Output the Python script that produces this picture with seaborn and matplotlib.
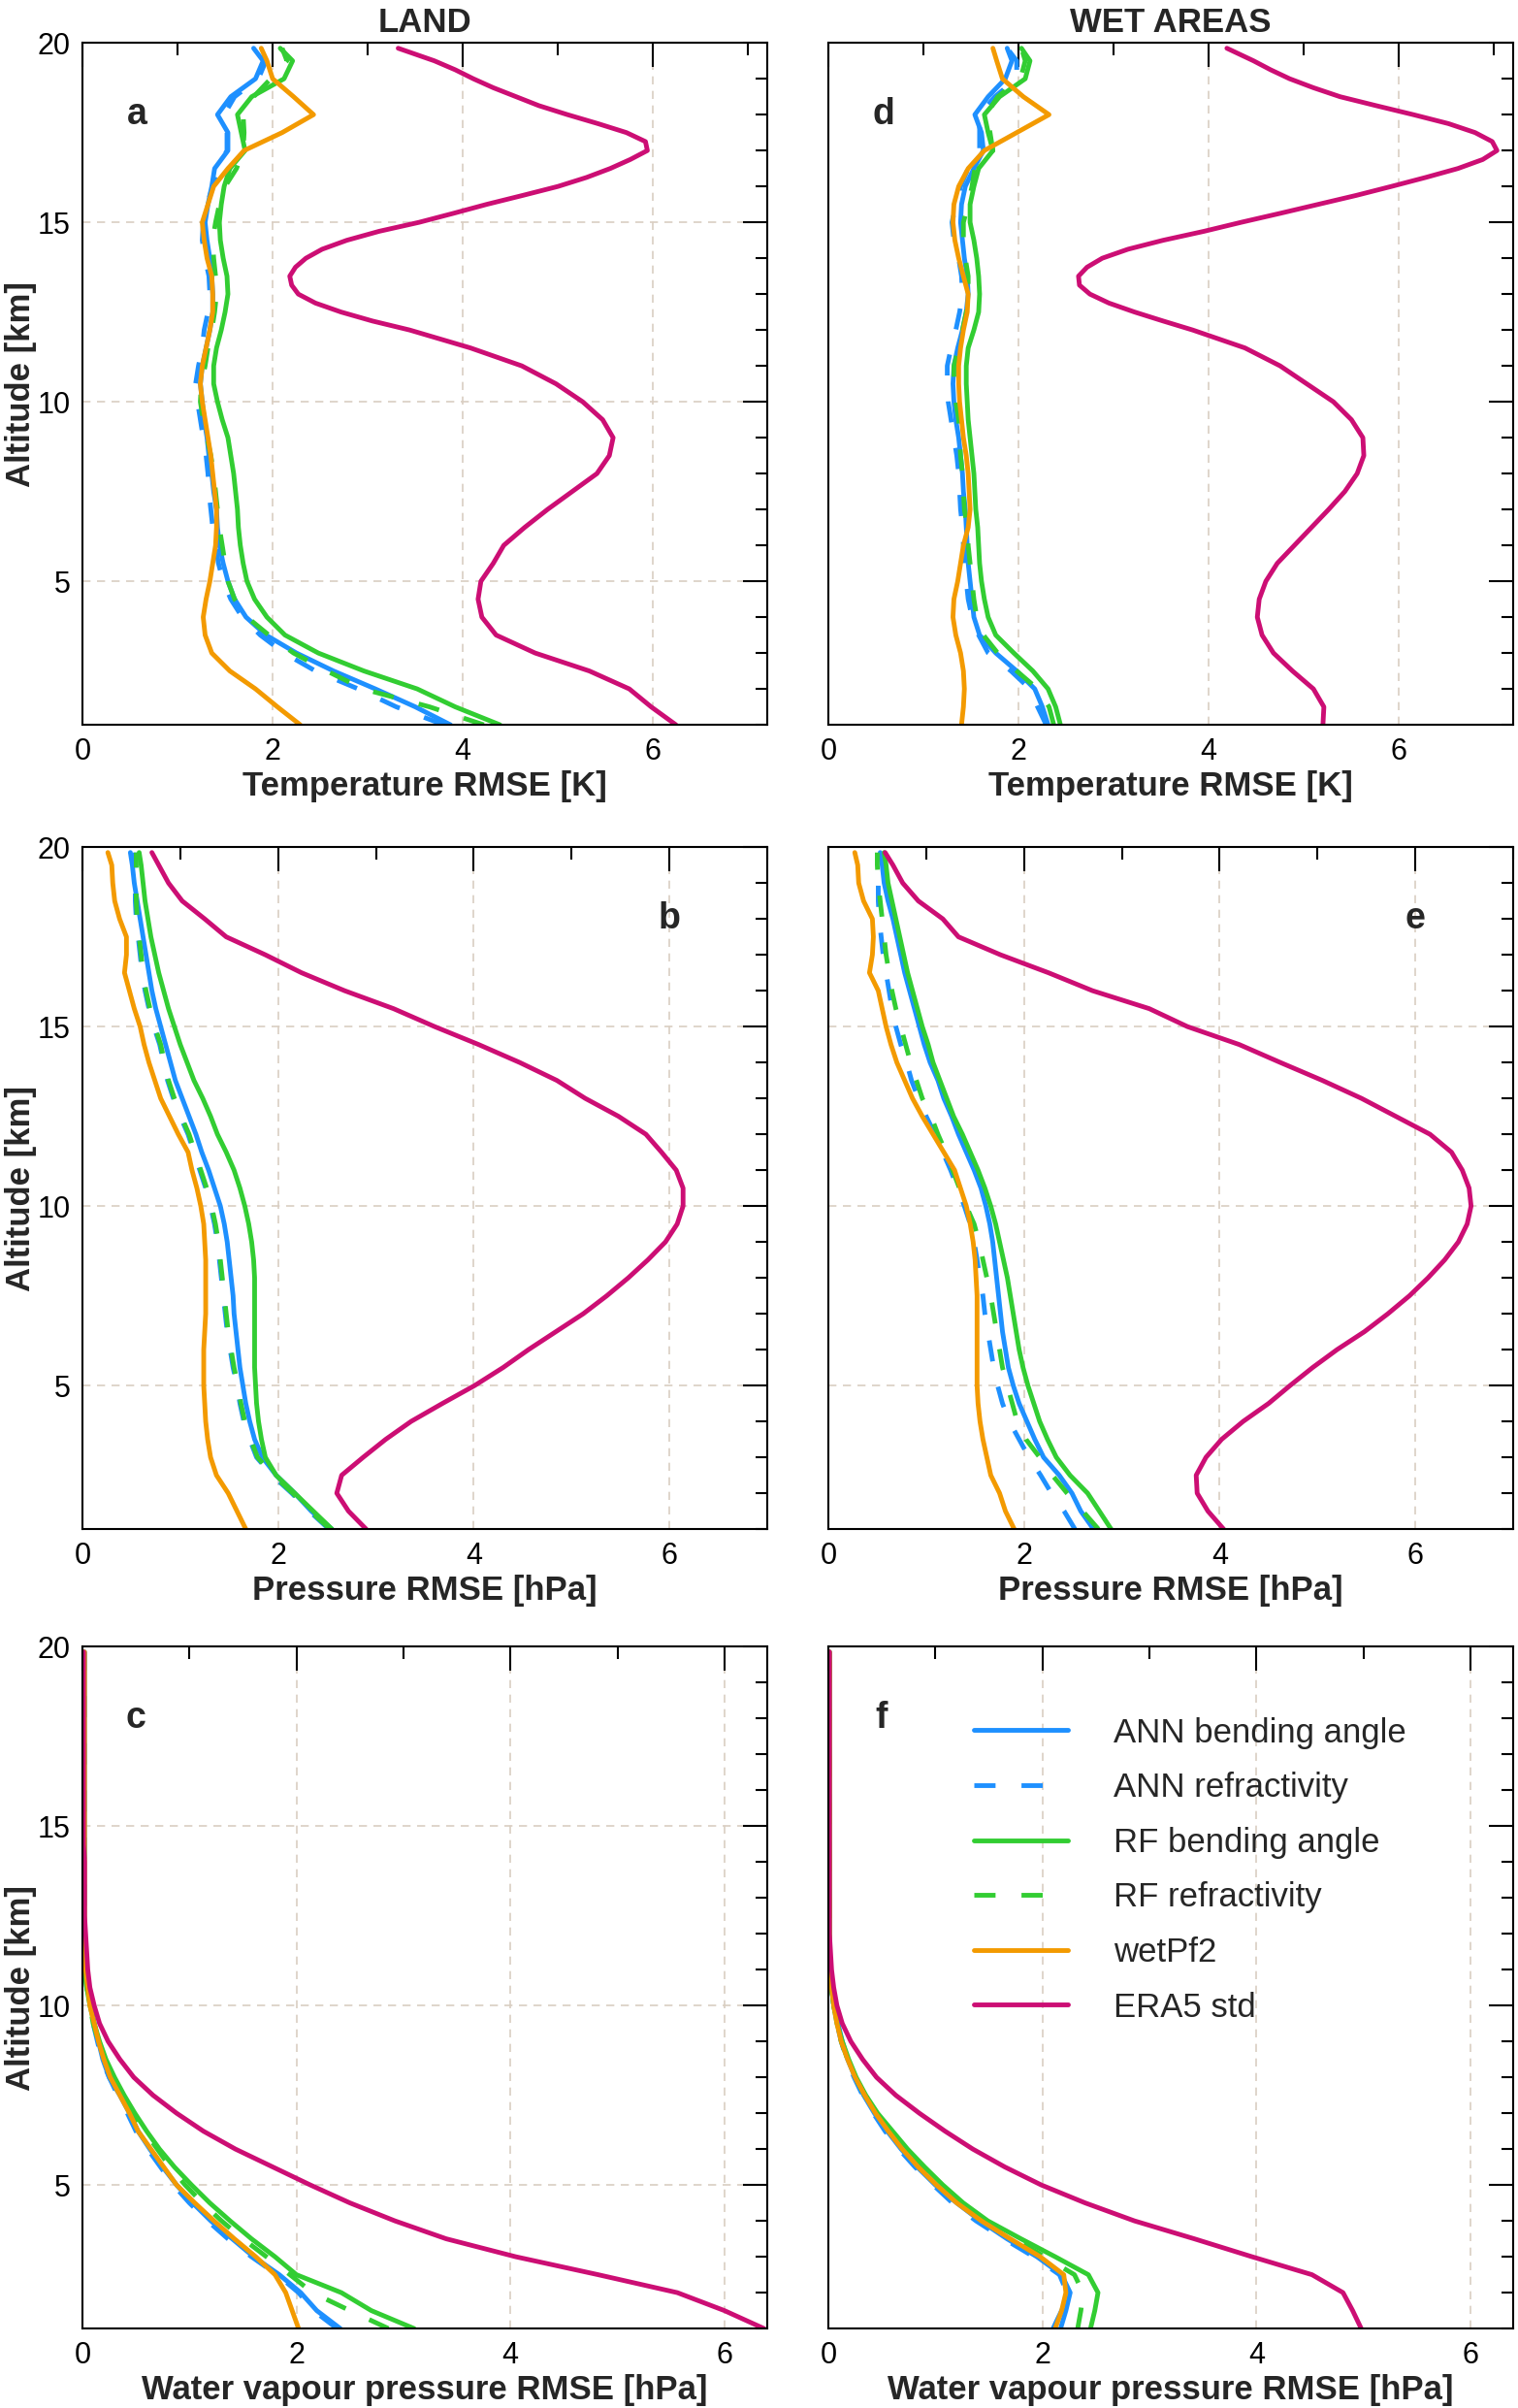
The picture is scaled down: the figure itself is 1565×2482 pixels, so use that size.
"""Profile der RMSE-Werte (Temperatur, Druck, Wasserdampfdruck) für LAND und WET AREAS."""

import matplotlib

matplotlib.use("Agg")
import matplotlib.pyplot as plt
import matplotlib.ticker as mticker
import pandas as pd
import seaborn as sns

# Höhenstufen [km]
ALT = [1.0, 1.5, 2.0, 2.5, 3.0, 3.5, 4.0, 4.5, 5.0, 5.5,
       6.0, 6.5, 7.0, 7.5, 8.0, 8.5, 9.0, 9.5, 10.0, 10.5,
       11.0, 11.5, 12.0, 12.5, 13.0, 13.5, 14.0, 14.5, 15.0, 15.5,
       16.0, 16.5, 17.0, 17.5, 18.0, 18.5, 19.0, 19.5, 19.85]
# feinere Stufen oberhalb 12 km für die ERA5-Temperaturprofile
ALT_FINE = [1.0, 1.5, 2.0, 2.5, 3.0, 3.5, 4.0, 4.5, 5.0, 5.5,
            6.0, 6.5, 7.0, 7.5, 8.0, 8.5, 9.0, 9.5, 10.0, 10.5,
            11.0, 11.5,
            12.0, 12.25, 12.5, 12.75, 13.0, 13.25, 13.5, 13.75, 14.0, 14.25,
            14.5, 14.75, 15.0, 15.25, 15.5, 15.75, 16.0, 16.25, 16.5, 16.75,
            17.0, 17.25, 17.5, 17.75, 18.0, 18.25, 18.5, 18.75, 19.0, 19.25,
            19.5, 19.85]

SERIES = ["ANN bending angle", "ANN refractivity", "RF bending angle",
          "RF refractivity", "wetPf2", "ERA5 std"]

# --- (a) Temperatur RMSE [K], LAND
T_LAND_ANN_BA = [3.87, 3.50, 3.08, 2.64, 2.25, 1.93, 1.72, 1.60, 1.53, 1.48,
                 1.44, 1.42, 1.41, 1.38, 1.36, 1.33, 1.31, 1.28, 1.26, 1.24,
                 1.26, 1.30, 1.34, 1.37, 1.37, 1.36, 1.34, 1.31, 1.29, 1.32,
                 1.36, 1.39, 1.53, 1.53, 1.42, 1.56, 1.82, 1.90, 1.80]
T_LAND_ANN_RF = [3.80, 3.30, 2.90, 2.45, 2.12, 1.87, 1.68, 1.56, 1.48, 1.43,
                 1.40, 1.37, 1.35, 1.33, 1.32, 1.30, 1.27, 1.24, 1.21, 1.19,
                 1.22, 1.26, 1.28, 1.32, 1.34, 1.33, 1.29, 1.26, 1.27, 1.31,
                 1.37, 1.42, 1.52, 1.52, 1.49, 1.60, 1.85, 1.93, 1.81]
T_LAND_RF_BA = [4.39, 3.92, 3.52, 2.96, 2.48, 2.13, 1.94, 1.81, 1.73, 1.69,
                1.66, 1.64, 1.63, 1.61, 1.59, 1.56, 1.53, 1.47, 1.42, 1.38,
                1.38, 1.41, 1.46, 1.50, 1.53, 1.52, 1.48, 1.45, 1.44, 1.46,
                1.49, 1.55, 1.71, 1.67, 1.63, 1.78, 2.12, 2.21, 2.08]
T_LAND_RF_RF = [4.22, 3.65, 2.95, 2.57, 2.22, 1.96, 1.73, 1.60, 1.53, 1.50,
                1.47, 1.44, 1.42, 1.40, 1.38, 1.35, 1.31, 1.27, 1.24, 1.25,
                1.29, 1.32, 1.36, 1.39, 1.41, 1.40, 1.38, 1.37, 1.40, 1.44,
                1.50, 1.62, 1.69, 1.70, 1.69, 1.80, 1.98, 2.15, 2.10]
T_LAND_WET = [2.29, 2.05, 1.82, 1.55, 1.36, 1.29, 1.27, 1.30, 1.34, 1.37,
              1.40, 1.41, 1.41, 1.39, 1.37, 1.35, 1.32, 1.29, 1.26, 1.24,
              1.26, 1.30, 1.34, 1.37, 1.37, 1.36, 1.31, 1.28, 1.26, 1.32,
              1.38, 1.53, 1.70, 2.10, 2.43, 2.22, 2.00, 1.94, 1.88]
T_LAND_ERA5 = [6.24, 5.98, 5.75, 5.33, 4.76, 4.35, 4.20, 4.16, 4.19, 4.32,
               4.43, 4.65, 4.89, 5.15, 5.41, 5.54, 5.58, 5.47, 5.26, 4.98,
               4.62, 4.08,
               3.44, 3.05, 2.72, 2.45, 2.27, 2.20, 2.18, 2.24, 2.35, 2.52,
               2.78, 3.12, 3.54, 3.90, 4.25, 4.63, 5.00, 5.30, 5.55, 5.76,
               5.94, 5.92, 5.72, 5.42, 5.10, 4.80, 4.56, 4.32, 4.11, 3.92,
               3.70, 3.32]

# --- (b) Druck RMSE [hPa], LAND
P_LAND_ANN_BA = [2.55, 2.34, 2.17, 1.98, 1.84, 1.76, 1.71, 1.67, 1.64, 1.61,
                 1.59, 1.57, 1.55, 1.54, 1.52, 1.50, 1.48, 1.45, 1.41, 1.35,
                 1.29, 1.22, 1.16, 1.09, 1.02, 0.95, 0.90, 0.85, 0.80, 0.75,
                 0.71, 0.68, 0.65, 0.62, 0.59, 0.56, 0.53, 0.51, 0.49]
P_LAND_ANN_RF = [2.52, 2.32, 2.14, 1.94, 1.78, 1.71, 1.65, 1.61, 1.58, 1.54,
                 1.51, 1.48, 1.46, 1.44, 1.42, 1.40, 1.38, 1.35, 1.31, 1.26,
                 1.20, 1.14, 1.08, 1.00, 0.93, 0.87, 0.83, 0.79, 0.73, 0.68,
                 0.64, 0.61, 0.59, 0.57, 0.55, 0.54, 0.54, 0.54, 0.54]
P_LAND_RF_BA = [2.55, 2.36, 2.17, 1.98, 1.87, 1.83, 1.80, 1.78, 1.77, 1.76,
                1.76, 1.76, 1.76, 1.76, 1.76, 1.75, 1.73, 1.70, 1.66, 1.61,
                1.55, 1.47, 1.38, 1.31, 1.23, 1.14, 1.07, 1.00, 0.94, 0.88,
                0.83, 0.78, 0.74, 0.70, 0.67, 0.64, 0.62, 0.60, 0.58]
P_LAND_RF_RF = [2.53, 2.33, 2.15, 1.95, 1.79, 1.72, 1.66, 1.62, 1.59, 1.55,
                1.52, 1.49, 1.47, 1.45, 1.43, 1.41, 1.39, 1.36, 1.32, 1.27,
                1.21, 1.15, 1.09, 1.01, 0.94, 0.88, 0.84, 0.80, 0.74, 0.69,
                0.65, 0.62, 0.60, 0.58, 0.56, 0.55, 0.55, 0.55, 0.55]
P_LAND_WET = [1.67, 1.58, 1.49, 1.37, 1.31, 1.28, 1.26, 1.25, 1.24, 1.24,
              1.24, 1.25, 1.26, 1.26, 1.26, 1.26, 1.25, 1.24, 1.21, 1.17,
              1.12, 1.08, 0.98, 0.89, 0.80, 0.74, 0.68, 0.63, 0.59, 0.53,
              0.48, 0.43, 0.45, 0.45, 0.38, 0.33, 0.31, 0.30, 0.26]
P_LAND_ERA5 = [2.90, 2.72, 2.60, 2.65, 2.87, 3.10, 3.36, 3.68, 4.01, 4.30,
               4.56, 4.84, 5.12, 5.36, 5.58, 5.78, 5.96, 6.08, 6.14, 6.14,
               6.07, 5.92, 5.76, 5.48, 5.14, 4.85, 4.47, 4.05, 3.60, 3.18,
               2.68, 2.24, 1.87, 1.47, 1.25, 1.02, 0.88, 0.78, 0.71]

# --- (c) Wasserdampfdruck RMSE [hPa], LAND
E_LAND_ANN_BA = [2.41, 2.19, 2.04, 1.84, 1.60, 1.40, 1.20, 1.03, 0.88, 0.75,
                 0.63, 0.52, 0.44, 0.35, 0.25, 0.19, 0.15, 0.11, 0.08, 0.05,
                 0.03, 0.02, 0.02, 0.02, 0.02, 0.02, 0.02, 0.02, 0.02, 0.02,
                 0.02, 0.02, 0.02, 0.02, 0.02, 0.02, 0.02, 0.02, 0.02]
E_LAND_ANN_RF = [2.38, 2.16, 2.02, 1.82, 1.58, 1.36, 1.17, 1.00, 0.85, 0.73,
                 0.61, 0.50, 0.42, 0.33, 0.25, 0.18, 0.14, 0.10, 0.07, 0.05,
                 0.03, 0.02, 0.02, 0.02, 0.02, 0.02, 0.02, 0.02, 0.02, 0.02,
                 0.02, 0.02, 0.02, 0.02, 0.02, 0.02, 0.02, 0.02, 0.02]
E_LAND_RF_BA = [3.10, 2.70, 2.42, 2.00, 1.80, 1.58, 1.38, 1.19, 1.02, 0.86,
                0.72, 0.60, 0.49, 0.39, 0.30, 0.22, 0.16, 0.11, 0.07, 0.04,
                0.02, 0.01, 0.01, 0.01, 0.01, 0.01, 0.01, 0.01, 0.01, 0.01,
                0.01, 0.01, 0.01, 0.01, 0.01, 0.01, 0.01, 0.01, 0.01]
E_LAND_RF_RF = [2.86, 2.50, 2.15, 1.94, 1.72, 1.50, 1.30, 1.12, 0.96, 0.82,
                0.70, 0.58, 0.47, 0.37, 0.28, 0.21, 0.15, 0.10, 0.07, 0.04,
                0.02, 0.01, 0.01, 0.01, 0.01, 0.01, 0.01, 0.01, 0.01, 0.01,
                0.01, 0.01, 0.01, 0.01, 0.01, 0.01, 0.01, 0.01, 0.01]
E_LAND_WET = [2.02, 1.96, 1.90, 1.80, 1.62, 1.42, 1.23, 1.05, 0.88, 0.76,
              0.64, 0.52, 0.44, 0.35, 0.26, 0.20, 0.15, 0.11, 0.07, 0.05,
              0.03, 0.02, 0.02, 0.02, 0.02, 0.02, 0.02, 0.02, 0.02, 0.02,
              0.02, 0.02, 0.02, 0.02, 0.02, 0.02, 0.02, 0.02, 0.02]
E_LAND_ERA5 = [6.37, 6.00, 5.56, 4.82, 4.05, 3.40, 2.92, 2.50, 2.13, 1.78,
               1.43, 1.13, 0.88, 0.66, 0.48, 0.35, 0.24, 0.16, 0.11, 0.07,
               0.05, 0.04, 0.03, 0.02, 0.02, 0.02, 0.02, 0.01, 0.01, 0.01,
               0.01, 0.01, 0.01, 0.01, 0.01, 0.01, 0.01, 0.01, 0.01]

# --- (d) Temperatur RMSE [K], WET AREAS
T_WET_ANN_BA = [2.31, 2.25, 2.17, 1.98, 1.76, 1.59, 1.53, 1.51, 1.49, 1.47,
                1.46, 1.45, 1.44, 1.42, 1.41, 1.39, 1.37, 1.34, 1.32, 1.31,
                1.32, 1.36, 1.41, 1.45, 1.47, 1.46, 1.43, 1.41, 1.39, 1.40,
                1.44, 1.53, 1.63, 1.61, 1.54, 1.68, 1.86, 1.93, 1.88]
T_WET_ANN_RF = [2.29, 2.20, 2.12, 1.92, 1.68, 1.58, 1.51, 1.47, 1.45, 1.43,
                1.42, 1.41, 1.39, 1.38, 1.37, 1.35, 1.32, 1.29, 1.26, 1.25,
                1.25, 1.29, 1.34, 1.38, 1.41, 1.40, 1.37, 1.32, 1.30, 1.34,
                1.39, 1.47, 1.59, 1.59, 1.59, 1.75, 1.98, 1.98, 1.88]
T_WET_RF_BA = [2.44, 2.39, 2.31, 2.15, 1.95, 1.76, 1.68, 1.64, 1.61, 1.59,
               1.58, 1.57, 1.55, 1.54, 1.53, 1.51, 1.49, 1.47, 1.46, 1.45,
               1.45, 1.47, 1.53, 1.58, 1.59, 1.58, 1.56, 1.53, 1.49, 1.49,
               1.53, 1.58, 1.73, 1.68, 1.64, 1.80, 2.07, 2.12, 2.03]
T_WET_RF_RF = [2.37, 2.32, 2.20, 1.98, 1.78, 1.63, 1.56, 1.53, 1.51, 1.49,
               1.47, 1.46, 1.43, 1.42, 1.41, 1.39, 1.38, 1.37, 1.34, 1.32,
               1.32, 1.37, 1.41, 1.45, 1.47, 1.47, 1.44, 1.42, 1.42, 1.47,
               1.51, 1.54, 1.73, 1.70, 1.66, 1.78, 2.02, 2.07, 2.03]
T_WET_WET = [1.40, 1.42, 1.43, 1.42, 1.39, 1.34, 1.31, 1.32, 1.36, 1.39,
             1.42, 1.47, 1.49, 1.48, 1.47, 1.45, 1.42, 1.40, 1.38, 1.37,
             1.37, 1.39, 1.42, 1.46, 1.47, 1.42, 1.37, 1.33, 1.31, 1.32,
             1.37, 1.47, 1.64, 1.98, 2.32, 2.05, 1.83, 1.77, 1.73]
T_WET_ERA5 = [5.20, 5.21, 5.10, 4.88, 4.68, 4.56, 4.51, 4.53, 4.60, 4.72,
              4.90, 5.08, 5.26, 5.43, 5.56, 5.63, 5.62, 5.50, 5.31, 5.03,
              4.75, 4.38,
              3.83, 3.52, 3.22, 2.95, 2.75, 2.64, 2.63, 2.72, 2.88, 3.15,
              3.52, 3.95, 4.34, 4.75, 5.15, 5.55, 5.92, 6.28, 6.62, 6.88,
              7.03, 6.98, 6.80, 6.52, 6.15, 5.76, 5.38, 5.10, 4.85, 4.65,
              4.47, 4.19]

# --- (e) Druck RMSE [hPa], WET AREAS
P_WET_ANN_BA = [2.71, 2.58, 2.49, 2.36, 2.20, 2.11, 2.03, 1.95, 1.89, 1.84,
                1.81, 1.78, 1.76, 1.74, 1.72, 1.70, 1.68, 1.65, 1.61, 1.56,
                1.49, 1.41, 1.33, 1.26, 1.18, 1.12, 1.04, 0.98, 0.93, 0.88,
                0.83, 0.78, 0.74, 0.70, 0.66, 0.61, 0.57, 0.55, 0.53]
P_WET_ANN_RF = [2.52, 2.41, 2.28, 2.17, 2.05, 1.95, 1.85, 1.78, 1.73, 1.69,
                1.66, 1.63, 1.60, 1.58, 1.55, 1.52, 1.49, 1.45, 1.39, 1.32,
                1.25, 1.17, 1.09, 1.00, 0.92, 0.85, 0.80, 0.74, 0.69, 0.65,
                0.62, 0.59, 0.56, 0.54, 0.52, 0.51, 0.51, 0.52, 0.53]
P_WET_RF_BA = [2.89, 2.77, 2.65, 2.47, 2.33, 2.24, 2.16, 2.10, 2.04, 1.99,
               1.95, 1.92, 1.89, 1.86, 1.83, 1.79, 1.75, 1.71, 1.66, 1.60,
               1.53, 1.45, 1.37, 1.28, 1.21, 1.14, 1.07, 1.02, 0.96, 0.91,
               0.86, 0.81, 0.77, 0.73, 0.69, 0.65, 0.61, 0.59, 0.57]
P_WET_RF_RF = [2.76, 2.60, 2.44, 2.29, 2.16, 2.02, 1.93, 1.88, 1.83, 1.78,
               1.75, 1.72, 1.69, 1.66, 1.62, 1.58, 1.54, 1.49, 1.41, 1.34,
               1.27, 1.20, 1.12, 1.05, 0.96, 0.90, 0.84, 0.79, 0.74, 0.69,
               0.65, 0.62, 0.59, 0.57, 0.55, 0.53, 0.51, 0.50, 0.50]
P_WET_WET = [1.90, 1.81, 1.75, 1.66, 1.62, 1.58, 1.55, 1.53, 1.52, 1.52,
             1.52, 1.52, 1.52, 1.52, 1.51, 1.50, 1.48, 1.45, 1.41, 1.35,
             1.29, 1.18, 1.07, 0.96, 0.86, 0.78, 0.70, 0.64, 0.59, 0.55,
             0.51, 0.42, 0.45, 0.46, 0.45, 0.36, 0.31, 0.30, 0.27]
P_WET_ERA5 = [4.04, 3.88, 3.77, 3.76, 3.86, 4.02, 4.24, 4.50, 4.72, 4.95,
              5.20, 5.48, 5.72, 5.94, 6.13, 6.30, 6.44, 6.53, 6.57, 6.55,
              6.48, 6.37, 6.15, 5.80, 5.45, 5.05, 4.62, 4.20, 3.67, 3.28,
              2.70, 2.25, 1.76, 1.33, 1.17, 0.92, 0.76, 0.66, 0.58]

# --- (f) Wasserdampfdruck RMSE [hPa], WET AREAS
E_WET_ANN_BA = [2.17, 2.22, 2.26, 2.18, 1.95, 1.67, 1.42, 1.20, 1.00, 0.83,
                0.68, 0.55, 0.43, 0.33, 0.25, 0.18, 0.13, 0.09, 0.05, 0.03,
                0.02, 0.01, 0.01, 0.01, 0.01, 0.01, 0.01, 0.01, 0.01, 0.01,
                0.01, 0.01, 0.01, 0.01, 0.01, 0.01, 0.01, 0.01, 0.01]
E_WET_ANN_RF = [2.10, 2.18, 2.23, 2.16, 1.92, 1.64, 1.38, 1.16, 0.98, 0.81,
                0.66, 0.53, 0.42, 0.32, 0.24, 0.17, 0.12, 0.08, 0.05, 0.03,
                0.02, 0.01, 0.01, 0.01, 0.01, 0.01, 0.01, 0.01, 0.01, 0.01,
                0.01, 0.01, 0.01, 0.01, 0.01, 0.01, 0.01, 0.01, 0.01]
E_WET_RF_BA = [2.45, 2.49, 2.52, 2.43, 2.12, 1.80, 1.49, 1.26, 1.07, 0.90,
               0.74, 0.60, 0.46, 0.35, 0.26, 0.19, 0.13, 0.08, 0.05, 0.03,
               0.02, 0.01, 0.01, 0.01, 0.01, 0.01, 0.01, 0.01, 0.01, 0.01,
               0.01, 0.01, 0.01, 0.01, 0.01, 0.01, 0.01, 0.01, 0.01]
E_WET_RF_RF = [2.33, 2.36, 2.38, 2.30, 2.02, 1.74, 1.46, 1.22, 1.03, 0.87,
               0.71, 0.58, 0.45, 0.34, 0.25, 0.18, 0.12, 0.08, 0.05, 0.03,
               0.02, 0.01, 0.01, 0.01, 0.01, 0.01, 0.01, 0.01, 0.01, 0.01,
               0.01, 0.01, 0.01, 0.01, 0.01, 0.01, 0.01, 0.01, 0.01]
E_WET_WET = [2.12, 2.18, 2.22, 2.20, 1.98, 1.70, 1.43, 1.20, 1.01, 0.84,
             0.69, 0.56, 0.44, 0.34, 0.25, 0.18, 0.12, 0.08, 0.05, 0.03,
             0.02, 0.01, 0.01, 0.01, 0.01, 0.01, 0.01, 0.01, 0.01, 0.01,
             0.01, 0.01, 0.01, 0.01, 0.01, 0.01, 0.01, 0.01, 0.01]
E_WET_ERA5 = [4.98, 4.90, 4.81, 4.52, 3.96, 3.42, 2.86, 2.40, 1.99, 1.65,
              1.35, 1.09, 0.85, 0.63, 0.45, 0.32, 0.21, 0.13, 0.08, 0.05,
              0.03, 0.02, 0.01, 0.01, 0.01, 0.01, 0.01, 0.01, 0.01, 0.01,
              0.01, 0.01, 0.01, 0.01, 0.01, 0.01, 0.01, 0.01, 0.01]

COLORS = {
    "ANN bending angle": "#1e90ff",
    "ANN refractivity": "#1e90ff",
    "RF bending angle": "#32cd32",
    "RF refractivity": "#32cd32",
    "wetPf2": "#f39a00",
    "ERA5 std": "#cc0e74",
}
DASHES = {
    "ANN bending angle": "",
    "ANN refractivity": (4.5, 5.5),
    "RF bending angle": "",
    "RF refractivity": (4.5, 5.5),
    "wetPf2": "",
    "ERA5 std": "",
}
GRID_COLOR = "#d9cec2"

# (Spalte, Zeile, Daten, Höhen für ERA5, xlim, xlabel, Buchstabe, Buchstaben-x, horiz. Gitter)
PANELS = [
    (0, 0, [T_LAND_ANN_BA, T_LAND_ANN_RF, T_LAND_RF_BA, T_LAND_RF_RF, T_LAND_WET, T_LAND_ERA5],
     ALT_FINE, 7.2, "Temperature RMSE [K]", "a", 0.08, True),
    (0, 1, [P_LAND_ANN_BA, P_LAND_ANN_RF, P_LAND_RF_BA, P_LAND_RF_RF, P_LAND_WET, P_LAND_ERA5],
     ALT, 7.0, "Pressure RMSE [hPa]", "b", 0.857, True),
    (0, 2, [E_LAND_ANN_BA, E_LAND_ANN_RF, E_LAND_RF_BA, E_LAND_RF_RF, E_LAND_WET, E_LAND_ERA5],
     ALT, 6.4, "Water vapour pressure RMSE [hPa]", "c", 0.078, True),
    (1, 0, [T_WET_ANN_BA, T_WET_ANN_RF, T_WET_RF_BA, T_WET_RF_RF, T_WET_WET, T_WET_ERA5],
     ALT_FINE, 7.2, "Temperature RMSE [K]", "d", 0.08, False),
    (1, 1, [P_WET_ANN_BA, P_WET_ANN_RF, P_WET_RF_BA, P_WET_RF_RF, P_WET_WET, P_WET_ERA5],
     ALT, 7.0, "Pressure RMSE [hPa]", "e", 0.857, True),
    (1, 2, [E_WET_ANN_BA, E_WET_ANN_RF, E_WET_RF_BA, E_WET_RF_RF, E_WET_WET, E_WET_ERA5],
     ALT, 6.4, "Water vapour pressure RMSE [hPa]", "f", 0.078, False),
]

sns.set_theme(style="white")
plt.rcParams["font.family"] = ["Liberation Sans", "DejaVu Sans"]
plt.rcParams["axes.linewidth"] = 1.5
plt.rcParams["axes.edgecolor"] = "black"

fig = plt.figure(figsize=(15.65, 24.82), dpi=100)

COL_LEFT = [0.0543, 0.5457]
ROW_BOTTOM = [0.6990, 0.3650, 0.0330]
AX_W, AX_H = 0.4511, 0.2832

for col, row, values, era5_alt, xmax, xlabel, letter, letter_x, hgrid in PANELS:
    ax = fig.add_axes([COL_LEFT[col], ROW_BOTTOM[row], AX_W, AX_H])
    frames = []
    for name, v in zip(SERIES, values):
        alt = era5_alt if name == "ERA5 std" else ALT
        frames.append(pd.DataFrame({"alt": alt, "rmse": v, "series": name}))
    df = pd.concat(frames, ignore_index=True)
    sns.lineplot(
        data=df, x="rmse", y="alt", hue="series", style="series",
        hue_order=SERIES, style_order=SERIES, palette=COLORS, dashes=DASHES,
        orient="y", estimator=None, lw=3.5, legend=False, ax=ax,
    )
    ax.set_xlim(0, xmax)
    ax.set_ylim(1, 20)
    ax.xaxis.set_major_locator(mticker.MultipleLocator(2))
    ax.xaxis.set_minor_locator(mticker.MultipleLocator(1))
    ax.yaxis.set_major_locator(mticker.FixedLocator([5, 10, 15, 20]))
    ax.yaxis.set_minor_locator(mticker.MultipleLocator(1))
    ax.tick_params(which="both", direction="in", top=True, right=True, width=1.5,
                   colors="black", labelsize=22)
    ax.tick_params(which="major", length=18, pad=9)
    ax.tick_params(which="minor", length=9)
    ax.grid(True, which="major", axis="both" if hgrid else "x",
            color=GRID_COLOR, linestyle=(0, (5, 4)), linewidth=1.2)
    ax.set_axisbelow(True)

    ax.set_xlabel(xlabel, fontsize=25, fontweight="bold", labelpad=3)
    if col == 0:
        ax.set_ylabel("Altitude [km]", fontsize=25, fontweight="bold")
        ax.yaxis.set_label_coords(-0.067, 0.5)
    else:
        ax.set_ylabel("")
        ax.tick_params(labelleft=False)
    if row == 0:
        ax.set_title("LAND" if col == 0 else "WET AREAS", fontsize=25,
                     fontweight="bold", pad=8)
    ax.text(letter_x, 0.895, letter, transform=ax.transAxes, fontsize=27,
            fontweight="bold", ha="center", va="center")

    if letter == "f":
        ax.legend(ax.get_lines(), SERIES, loc="upper left", bbox_to_anchor=(0.2125, 0.897),
                  frameon=False, fontsize=25, handlelength=2.8, handletextpad=1.35,
                  labelspacing=0.68, borderaxespad=0, borderpad=0)

plt.savefig("out.png", dpi=100)
plt.close()
